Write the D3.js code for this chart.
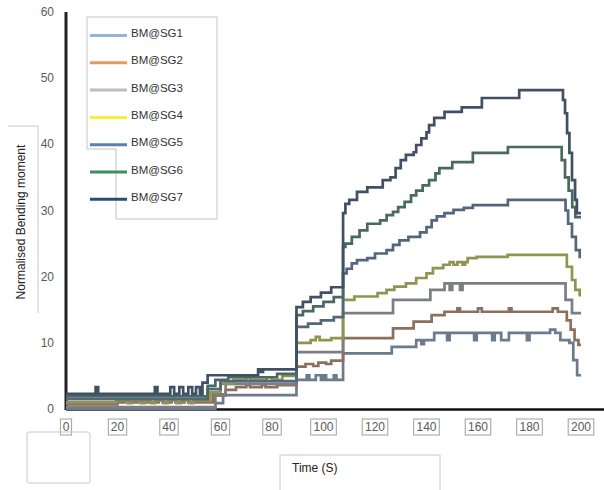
<!DOCTYPE html>
<html><head><meta charset="utf-8">
<script src="https://cdn.jsdelivr.net/npm/d3@7"></script>
<style>body{margin:0;background:#fff}svg{display:block}</style>
</head><body>
<script>
// ---- data ----
const seriesNames = ["BM@SG1","BM@SG2","BM@SG3","BM@SG4","BM@SG5","BM@SG6","BM@SG7"];
const legendColors = ["#95b3d7","#e59a5c","#bdbdbd","#f2f23a","#5b80aa","#3d8c63","#2d4b73"];
const xTicks = [0,20,40,60,80,100,120,140,160,180,200];
const yTicks = [0,10,20,30,40,50,60];

const sg1 = [[0,0],[58,0.9],[61,2.1],[89.5,4.4],[93.5,5.1],[94.5,4.4],[97,5.1],[99,4.4],[100,5.1],[101,4.4],[104,5.1],[105,4.4],[107.6,8.4],[126.5,9.4],[136,10.4],[138,9.8],[139,10.4],[143,11.5],[148,10.4],[149,11.5],[158.5,10.4],[159.5,11.5],[165.5,10.4],[166.5,11.5],[169,10.4],[172,11.5],[179,10.4],[180,11.5],[188,12.0],[190,11.5],[192,10.4],[195.5,10],[197,7.4],[198.5,5.1],[200,5.1]];
const sg2 = [[0,0.7],[20,1.0],[23,1.4],[24.5,1.0],[28,1.4],[29.5,1.0],[36,1.4],[37.5,1.0],[41,1.4],[42.5,1.0],[46,1.4],[47.5,1.0],[57,2.2],[62,2.9],[66,3.3],[70,3.6],[71.5,3.3],[76,3.6],[77.5,3.3],[82,3.6],[89.5,6.4],[93,6.8],[96,6.5],[98,7.0],[101,6.8],[103,7.3],[107.6,10.7],[127,12.2],[135,13.2],[142,14.2],[147,14.7],[152,15.2],[153,14.7],[160,15.2],[161.5,14.7],[172,15.2],[173,14.7],[189,15.2],[191,14.7],[194.5,13.4],[196,12],[197.5,10.4],[199,9.7],[200,9.7]];
const sg3 = [[0,0.3],[58,2.0],[62,3.8],[89.5,8.6],[107.6,14.5],[127,16.5],[141.5,18],[147,19],[149,18],[150,19],[153,18],[154,19],[194,16.5],[196.5,14.5],[200,14.5]];
const sg4 = [[0,1.0],[19.5,1.3],[24,0.9],[25.5,1.3],[29,0.9],[30.5,1.3],[33,0.9],[34.5,1.3],[38,0.9],[39.5,1.3],[43,0.9],[44.5,1.3],[48,0.9],[49.5,1.3],[56,2.5],[60,3.8],[65,4.4],[70,4.8],[71.5,4.4],[78,4.8],[80,4.4],[84,5.0],[89.5,10],[95,10.4],[97,10.9],[98.5,10.4],[103,10.7],[107.6,16.5],[112,17],[121,17.5],[124.5,18],[127.5,18.5],[132,19],[136,19.8],[140,20.5],[142.5,21.3],[146.5,21.8],[149,22.2],[150.5,21.8],[152,22.2],[154,21.8],[155,22.2],[156,22.8],[159.5,23],[171.5,23.3],[194.5,21.5],[196.5,19.5],[197.8,18],[199.5,17.2],[200,17.2]];
const sg5 = [[0,1.5],[55,3.0],[60,4.2],[89.5,12.4],[94,12.9],[99,13.4],[104,13.9],[107.6,20.5],[109,21.2],[111,22],[113,22.5],[117,22.8],[120,23.5],[124.5,24],[127,24.8],[129.5,25.5],[133,26],[137.5,26.7],[140,27.5],[142,28.5],[144,29.1],[147,29.6],[150.5,30.1],[154.5,30.4],[158,30.8],[171.6,31.6],[194,30],[195,28],[196.5,26],[198,24],[199.5,23],[200,23]];
const sg6 = [[0,1.9],[55,3.5],[58,4.4],[63,4.8],[82,5.3],[89.5,14.2],[92,14.8],[96,15.5],[100,16.2],[104,16.9],[107.6,24.5],[108.5,25],[111,26],[114,27],[117,28],[122,28.5],[124.5,29.3],[127,29.8],[129,30.5],[131.5,31.3],[134,32.3],[136,33],[138.5,33.8],[141,34.6],[143.5,35.6],[145,36.4],[150,37.3],[158,38.7],[171.6,39.6],[192.5,37.6],[193.8,35],[195.2,33],[196.6,30.5],[197.8,29],[200,29]];
const sg7 = [[0,2.3],[11.5,3.3],[12.5,2.3],[34.5,3.3],[35.5,2.3],[40.5,3.3],[42,2.3],[44,3.3],[45.5,2.3],[47.5,3.3],[49,2.3],[50.5,3.3],[52,2.3],[53,4.0],[55,5.1],[74.6,6.0],[75.5,5.6],[76.5,6.0],[89.5,15.4],[92,16.2],[95,16.9],[99,17.6],[103,18.4],[107.6,29.6],[108.5,31.0],[110,31.6],[113,32.8],[117,33.5],[123,34.6],[126,35],[128,36.4],[130,37.6],[132,38.4],[135,38.8],[136,39.9],[138,40.9],[140,41.8],[141,42.9],[143,44],[147,44.9],[153.7,45.6],[161.5,47],[176,48.2],[193,46.7],[193.8,44.7],[194.6,41.7],[195.5,38.7],[196.5,34.6],[197.7,31.6],[198.4,29.6],[200,29.6]];
const seriesData = [sg1,sg2,sg3,sg4,sg5,sg6,sg7];

// ---- drawing ----
const W = 604, H = 490;
const svg = d3.select("body").append("svg").attr("width", W).attr("height", H);
svg.append("rect").attr("width", W).attr("height", H).attr("fill", "#fff");

const x = d3.scaleLinear().domain([0,200]).range([66,581]);
const y = d3.scaleLinear().domain([0,60]).range([409,12]);
const font = "'Liberation Sans', Arial, sans-serif";

// y axis label box + label
svg.append("path").attr("d","M8,126H38V313").attr("fill","none").attr("stroke","#c8c8c8");
svg.append("text").attr("transform","translate(25,222) rotate(-90)")
  .attr("text-anchor","middle").attr("font-family",font).attr("font-size",12).attr("fill","#222")
  .text("Normalised Bending moment");

// y tick labels
svg.selectAll(".ytl").data(yTicks).enter().append("text")
  .attr("x",54).attr("y",d=>y(d)+4).attr("text-anchor","end")
  .attr("font-family",font).attr("font-size",12).attr("fill","#595959").text(d=>d);

// x tick labels with boxes
const xg = svg.selectAll(".xtl").data(xTicks).enter().append("g");
xg.append("rect").attr("x",d=>x(d)-(String(d).length*3.6+2)).attr("y",419)
  .attr("width",d=>String(d).length*7.2+4).attr("height",16)
  .attr("fill","none").attr("stroke","#a0a0a0").attr("stroke-width",1);
xg.append("text").attr("x",d=>x(d)).attr("y",431).attr("text-anchor","middle")
  .attr("font-family",font).attr("font-size",12).attr("fill","#595959").text(d=>d);

// axes lines
svg.append("line").attr("x1",x(0)).attr("x2",604).attr("y1",y(0)+0.5).attr("y2",y(0)+0.5)
  .attr("stroke","#111").attr("stroke-width",2.5);
svg.append("line").attr("x1",x(0)).attr("x2",x(0)).attr("y1",y(60)).attr("y2",y(0)+1)
  .attr("stroke","#222").attr("stroke-width",3);

// series lines
const line = d3.line().x(d=>x(d[0])).y(d=>y(d[1])).curve(d3.curveStepAfter);
seriesData.forEach((data,i)=>{
  const c = d3.interpolateRgb(legendColors[i], "#50545e")(0.6);
  svg.append("path").datum(data).attr("d",line).attr("fill","none")
    .attr("stroke",c).attr("stroke-width",2.7).attr("stroke-linejoin","miter");
});

// legend
svg.append("path").attr("d","M87,17H217V219H116V149H87Z").attr("fill","#fff")
  .attr("stroke","#c4c4c4").attr("stroke-width",1);
seriesNames.forEach((n,i)=>{
  const yy = 33 + i*27.3;
  svg.append("line").attr("x1",90).attr("x2",127).attr("y1",yy+2.5).attr("y2",yy+2.5)
    .attr("stroke",legendColors[i]).attr("stroke-width",3);
  svg.append("text").attr("x",131).attr("y",yy+4).attr("font-family",font)
    .attr("font-size",11.5).attr("fill","#333").text(n);
});

// x axis title box
svg.append("path").attr("d","M280,490V455H440V490").attr("fill","none").attr("stroke","#c8c8c8");
svg.append("text").attr("x",292).attr("y",472).attr("font-family",font).attr("font-size",12)
  .attr("fill","#222").text("Time (S)");

// bottom-left empty box
svg.append("rect").attr("x",27).attr("y",432).attr("width",63).attr("height",51)
  .attr("rx",2).attr("fill","none").attr("stroke","#c8c8c8");
</script>
</body></html>
